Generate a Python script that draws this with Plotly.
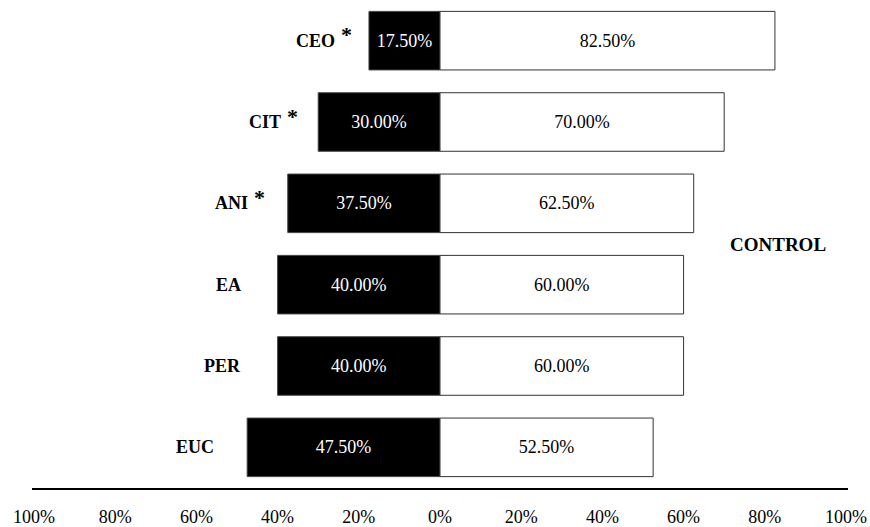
import plotly.graph_objects as go

categories = ["CEO", "CIT", "ANI", "EA", "PER", "EUC"]
starred = [True, True, True, False, False, False]
left_values = [17.5, 30.0, 37.5, 40.0, 40.0, 47.5]
right_values = [82.5, 70.0, 62.5, 60.0, 60.0, 52.5]
tick_values = [-100, -80, -60, -40, -20, 0, 20, 40, 60, 80, 100]
tick_labels = ["100%", "80%", "60%", "40%", "20%", "0%", "20%", "40%", "60%", "80%", "100%"]
side_label = "CONTROL"

# label right-edge positions (in axis units)
label_x = [-25.4, -38.7, -46.8, -48.5, -48.5, -55.3]

SERIF = "Liberation Serif, DejaVu Serif, serif"

fig = go.Figure()
fig.add_trace(go.Bar(
    y=categories, x=[-v for v in left_values], orientation="h",
    marker=dict(color="black", line=dict(color="#444", width=1)),
    width=0.72,
    text=[f"{v:.2f}%" for v in left_values], textposition="inside",
    insidetextanchor="middle", textangle=0,
    textfont=dict(color="white", size=18, family=SERIF),
    hoverinfo="skip",
))
fig.add_trace(go.Bar(
    y=categories, x=right_values, orientation="h",
    marker=dict(color="white", line=dict(color="#333", width=1)),
    width=0.72,
    text=[f"{v:.2f}%" for v in right_values], textposition="inside",
    insidetextanchor="middle", textangle=0,
    textfont=dict(color="black", size=18, family=SERIF),
    hoverinfo="skip",
))

for cat, st, lx in zip(categories, starred, label_x):
    fig.add_annotation(x=lx, y=cat, xref="x", yref="y", text=f"<b>{cat}</b>", showarrow=False,
                       xanchor="right", yanchor="middle",
                       font=dict(family=SERIF, size=18, color="black"))
    if st:
        fig.add_annotation(x=lx, y=cat, xref="x", yref="y", text="<b>*</b>", showarrow=False,
                           xanchor="left", yanchor="middle", xshift=2, yshift=6,
                           font=dict(family=SERIF, size=22, color="black"))

fig.add_annotation(x=0.975, y=0.5, xref="paper", yref="paper", text=f"<b>{side_label}</b>",
                   showarrow=False, xanchor="right", yanchor="middle",
                   font=dict(family=SERIF, size=19, color="black"))

fig.update_layout(
    width=870, height=527, barmode="relative", showlegend=False,
    plot_bgcolor="white", paper_bgcolor="white",
    margin=dict(l=32, r=22, t=0, b=39),
)
fig.update_xaxes(range=[-100.5, 100.5], tickvals=tick_values, ticktext=tick_labels,
                 showgrid=False, zeroline=False, showline=True, linecolor="black",
                 linewidth=2, ticks="", ticklabelstandoff=11, automargin=False,
                 tickfont=dict(family=SERIF, size=18, color="black"))
fig.update_yaxes(categoryorder="array", categoryarray=categories, autorange="reversed",
                 showticklabels=False, showgrid=False, zeroline=False, showline=False,
                 range=[5.5, -0.5], automargin=False)

fig.write_html("out.html", config={"displayModeBar": False},
               post_script="document.body.style.margin='0';document.body.style.padding='0';")
